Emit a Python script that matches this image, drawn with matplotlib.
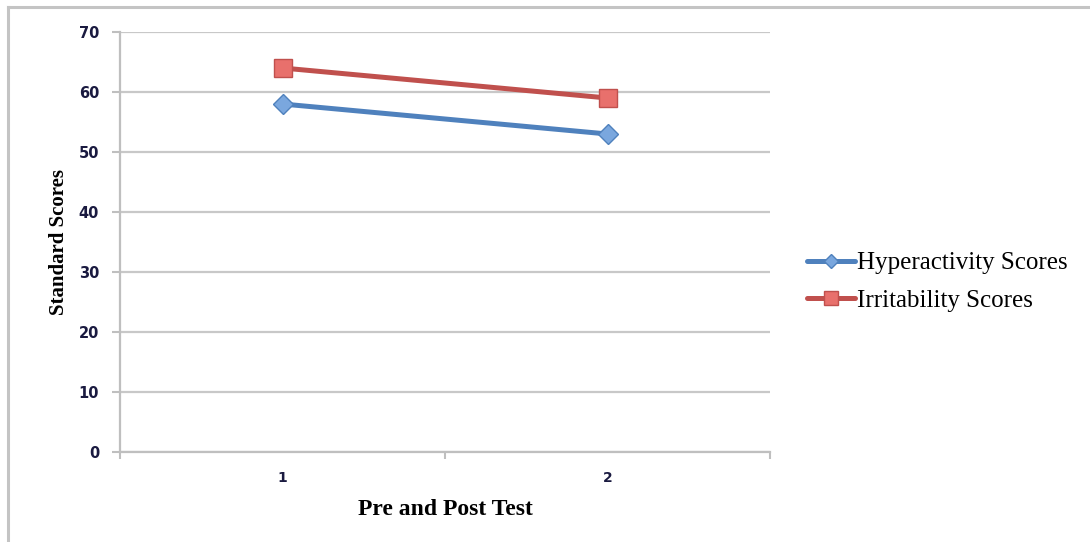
import matplotlib
matplotlib.use("Agg")
import matplotlib.pyplot as plt
from matplotlib.lines import Line2D
from matplotlib.ticker import FixedLocator

tests = [1, 2]
hyperactivity = [58, 53]
irritability = [64, 59]
y_ticks = [0, 10, 20, 30, 40, 50, 60, 70]

fig = plt.figure(figsize=(10.9, 5.42), dpi=100)
ax = fig.add_axes([120 / 1090, 90 / 542, 650 / 1090, 420 / 542])

ax.plot(tests, hyperactivity, color="#4F81BD", lw=3.6, marker="D", ms=10,
        mfc="#7AA7DE", mec="#4F81BD", mew=1, label="Hyperactivity Scores",
        solid_capstyle="round")
ax.plot(tests, irritability, color="#C0504D", lw=3.6, marker="s", ms=13,
        mfc="#E8706C", mec="#C0504D", mew=1, label="Irritability Scores",
        solid_capstyle="round")

ax.set_xlim(0.5, 2.5)
ax.set_ylim(0, 70)
ax.set_yticks(y_ticks)
ax.set_xticks(tests)
ax.xaxis.set_minor_locator(FixedLocator([0.5, 1.5, 2.5]))
ax.tick_params(axis="x", which="major", length=0, pad=14, labelsize=10,
               labelcolor="#1a1a40")
ax.tick_params(axis="x", which="minor", length=5, color="#bfbfbf", width=1.5,
               direction="out")
ax.tick_params(axis="y", length=6, color="#bfbfbf", width=1.5, pad=9,
               labelsize=10.5, labelcolor="#1a1a40")
for lbl in ax.get_yticklabels() + ax.get_xticklabels():
    lbl.set_fontweight("semibold")
ax.grid(axis="y", color="#c8c8c8", lw=1.6)
ax.set_axisbelow(True)
for side in ("top", "right"):
    ax.spines[side].set_visible(False)
for side in ("left", "bottom"):
    ax.spines[side].set_color("#bfbfbf")
    ax.spines[side].set_linewidth(1.6)

ax.set_ylabel("Standard Scores", family="Liberation Serif", fontweight="bold",
              fontsize=15, labelpad=7)
ax.set_xlabel("Pre and Post Test", family="Liberation Serif", fontweight="bold",
              fontsize=17, labelpad=10)

leg = ax.legend(loc="center left", bbox_to_anchor=(1.023, 0.405),
                frameon=False,
                prop={"family": "Liberation Serif", "size": 18},
                handlelength=1.9, handletextpad=0.1, labelspacing=0.6,
                markerscale=0.75)

# outer chart frame
frame_kw = dict(color="#c4c4c4", lw=2.2, transform=fig.transFigure,
                clip_on=False)
fig.add_artist(Line2D([8 / 1090, 8 / 1090], [0, 1 - 7 / 542], **frame_kw))
fig.add_artist(Line2D([8 / 1090, 1], [1 - 7 / 542, 1 - 7 / 542], **frame_kw))

fig.savefig("out.png", dpi=100, facecolor="white")
